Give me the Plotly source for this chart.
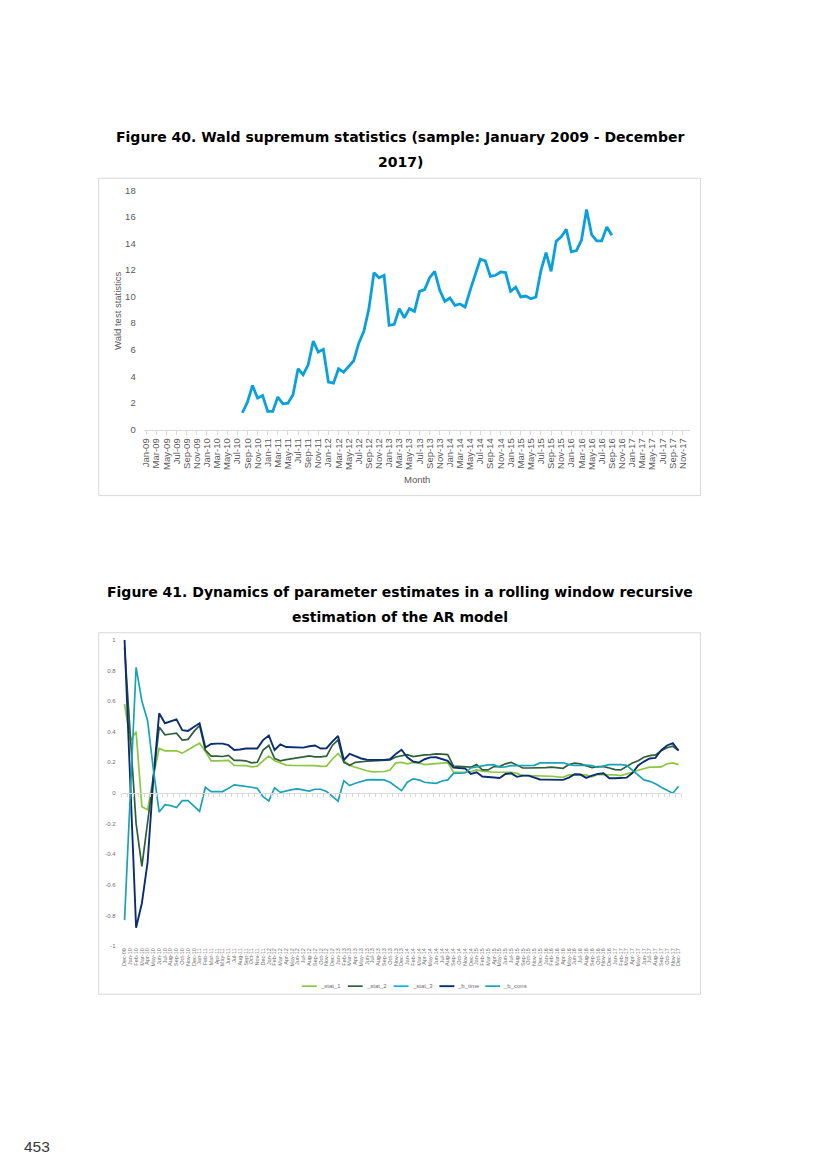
import pandas as pd
import plotly.graph_objects as go

W, H = 827, 1169
# reference-pixel -> paper coordinates (with small calibration of the capture)
def px(x): return (x - 2.0) / W
def py(y): return 1 - ((y - 6.0) / 0.9894) / H

# ---------------- data: Figure 40 ----------------
months_top = pd.date_range('2009-01-01', '2017-12-01', freq='MS').strftime('%b-%y').tolist()
wald_months = pd.date_range('2010-08-01', '2016-09-01', freq='MS').strftime('%b-%y').tolist()
wald_values = [1.26, 2.06, 3.31, 2.36, 2.56, 1.36, 1.36, 2.44, 1.93, 1.98,
               2.61, 4.57, 4.12, 4.87, 6.65, 5.83, 6.03, 3.57, 3.49, 4.57,
               4.32, 4.77, 5.17, 6.5, 7.38, 9.09, 11.8, 11.42, 11.6, 7.83,
               7.91, 9.09, 8.41, 9.09, 8.89, 10.39, 10.52, 11.42, 11.9, 10.47,
               9.64, 9.89, 9.34, 9.44, 9.21, 10.47, 11.6, 12.8, 12.68, 11.52,
               11.6, 11.85, 11.8, 10.39, 10.7, 9.97, 10.04, 9.84, 9.97, 11.98,
               13.3, 11.9, 14.16, 14.49, 15.06, 13.36, 13.46, 14.24, 16.55, 14.66,
               14.19, 14.19, 15.24, 14.61]
top_ticks = list(range(0, 19, 2))

# ---------------- data: Figure 41 ----------------
months_bot = pd.date_range('2009-12-01', '2017-12-01', freq='MS').strftime('%b-%y').tolist()
stat_1 = [0.58, 0.34, 0.40, -0.09, -0.11, 0.11, 0.29, 0.275, 0.275, 0.275,
          0.26, 0.28, 0.305, 0.325, 0.27, 0.21, 0.21, 0.21, 0.213, 0.18,
          0.178, 0.178, 0.17, 0.175, 0.21, 0.24, 0.21, 0.195, 0.182, 0.18,
          0.18, 0.18, 0.18, 0.178, 0.174, 0.175, 0.22, 0.258, 0.21, 0.18,
          0.168, 0.155, 0.145, 0.138, 0.137, 0.14, 0.15, 0.196, 0.2, 0.19,
          0.2, 0.195, 0.185, 0.188, 0.19, 0.192, 0.198, 0.135, 0.135, 0.135,
          0.14, 0.15, 0.143, 0.138, 0.135, 0.135, 0.135, 0.135, 0.128, 0.113,
          0.113, 0.113, 0.109, 0.109, 0.109, 0.105, 0.102, 0.118, 0.12, 0.12,
          0.118, 0.105, 0.12, 0.12, 0.12, 0.118, 0.113, 0.122, 0.135, 0.148,
          0.158, 0.168, 0.168, 0.17, 0.19, 0.196, 0.185]
stat_2 = [0.95, 0.35, -0.2, -0.48, -0.2, 0.1, 0.43, 0.38, 0.385, 0.39,
          0.345, 0.35, 0.40, 0.44, 0.28, 0.24, 0.24, 0.238, 0.245, 0.213,
          0.213, 0.21, 0.196, 0.2, 0.28, 0.31, 0.224, 0.21, 0.217, 0.222,
          0.228, 0.235, 0.242, 0.235, 0.235, 0.24, 0.31, 0.346, 0.2, 0.18,
          0.2, 0.205, 0.207, 0.21, 0.211, 0.213, 0.216, 0.235, 0.244, 0.25,
          0.237, 0.244, 0.248, 0.25, 0.255, 0.253, 0.25, 0.176, 0.172, 0.17,
          0.168, 0.185, 0.15, 0.15, 0.172, 0.172, 0.19, 0.2, 0.18, 0.163,
          0.163, 0.163, 0.163, 0.165, 0.168, 0.165, 0.161, 0.185, 0.194, 0.19,
          0.179, 0.165, 0.172, 0.172, 0.163, 0.152, 0.15, 0.172, 0.195, 0.21,
          0.233, 0.244, 0.248, 0.275, 0.295, 0.305, 0.277]
stat_3 = [None] * len(months_bot)
b_time = [1.0, 0.05, -0.88, -0.72, -0.45, 0.1, 0.52, 0.455, 0.47, 0.48,
          0.41, 0.405, 0.43, 0.455, 0.297, 0.32, 0.322, 0.322, 0.312, 0.28,
          0.284, 0.29, 0.29, 0.29, 0.345, 0.375, 0.28, 0.317, 0.30, 0.298,
          0.296, 0.296, 0.305, 0.31, 0.29, 0.292, 0.335, 0.372, 0.215, 0.255,
          0.24, 0.225, 0.217, 0.216, 0.216, 0.216, 0.22, 0.255, 0.282, 0.233,
          0.205, 0.198, 0.22, 0.232, 0.233, 0.22, 0.21, 0.165, 0.162, 0.16,
          0.124, 0.135, 0.107, 0.104, 0.1, 0.098, 0.124, 0.128, 0.105, 0.113,
          0.113, 0.1, 0.088, 0.087, 0.087, 0.087, 0.085, 0.1, 0.122, 0.12,
          0.098, 0.113, 0.124, 0.128, 0.096, 0.096, 0.097, 0.1, 0.13, 0.179,
          0.205, 0.225, 0.229, 0.28, 0.31, 0.325, 0.277]
b_cons = [-0.83, 0.0, 0.82, 0.6, 0.47, 0.15, -0.125, -0.077, -0.083, -0.095,
          -0.05, -0.05, -0.083, -0.12, 0.037, 0.009, 0.009, 0.009, 0.03, 0.053,
          0.048, 0.044, 0.037, 0.03, -0.024, -0.052, 0.033, 0.004, 0.015, 0.022,
          0.026, 0.02, 0.012, 0.024, 0.024, 0.01, -0.02, -0.054, 0.08, 0.048,
          0.063, 0.076, 0.085, 0.087, 0.087, 0.085, 0.07, 0.04, 0.015, 0.07,
          0.092, 0.085, 0.07, 0.066, 0.063, 0.078, 0.085, 0.128, 0.128, 0.13,
          0.163, 0.17, 0.18, 0.183, 0.185, 0.168, 0.17, 0.178, 0.178, 0.178,
          0.178, 0.18, 0.196, 0.196, 0.196, 0.197, 0.197, 0.185, 0.179, 0.179,
          0.182, 0.178, 0.168, 0.175, 0.185, 0.185, 0.185, 0.18, 0.15, 0.115,
          0.085, 0.076, 0.06, 0.037, 0.015, -0.002, 0.044]
left_ticks = [-1, -0.8, -0.6, -0.4, -0.2, 0, 0.2, 0.4, 0.6, 0.8, 1]
left_ticktext = ['-1', '-0.8', '-0.6', '-0.4', '-0.2', '0', '0.2', '0.4', '0.6', '0.8', '1']
right_ticks = [-10, -5, 0, 5, 10, 15, 20, 25, 30, 35, 40]
right_ticktext = ['-10', '-5', '0', '5', '10', '15', '20', '25', '30', '35', '40']

series_names = ['_stat_1', '_stat_2', '_stat_3', '_b_time', '_b_cons']
series_values = [stat_1, stat_2, stat_3, b_time, b_cons]
series_colors = ['#8DC641', '#2F5F3A', '#00B0F0', '#0B2E70', '#1AA3B6']
series_widths = [1.7, 1.7, 1.7, 1.9, 1.7]

GRAY = '#595959'
GRAY2 = '#6E6E6E'
LINE = '#D9D9D9'
AX = 'Liberation Sans, Arial, sans-serif'
TITLE = 'DejaVu Sans, Verdana, sans-serif'

fig = go.Figure()
fig.add_trace(go.Scatter(x=wald_months, y=wald_values, mode='lines',
                         line=dict(color='#0AA0DC', width=2.8),
                         xaxis='x', yaxis='y', showlegend=False))
for name, vals, col, w in zip(series_names, series_values, series_colors, series_widths):
    fig.add_trace(go.Scatter(x=months_bot, y=vals, mode='lines', name=name,
                             line=dict(color=col, width=w),
                             xaxis='x3' if name == '_stat_3' else 'x2', yaxis='y2',
                             showlegend=False, connectgaps=False))

x0t, x1t = 143.2, 691.8
x0b, x1b = 121.1, 682.9

shapes = [
    dict(type='rect', xref='paper', yref='paper', x0=px(98), x1=px(702),
         y0=py(495), y1=py(178), line=dict(color=LINE, width=1)),
    dict(type='rect', xref='paper', yref='paper', x0=px(98), x1=px(702),
         y0=py(993), y1=py(632), line=dict(color=LINE, width=1)),
]
annotations = [
    dict(text='<b>Figure 40. Wald supremum statistics (sample: January 2009 - December</b>',
         x=px(400.5), y=py(137), xref='paper', yref='paper', showarrow=False,
         xanchor='center', yanchor='middle', font=dict(family=TITLE, size=14, color='black')),
    dict(text='<b>2017)</b>', x=px(400.5), y=py(162), xref='paper', yref='paper',
         showarrow=False, xanchor='center', yanchor='middle',
         font=dict(family=TITLE, size=14, color='black')),
    dict(text='Wald test statistics', x=px(117), y=py(310), xref='paper', yref='paper',
         showarrow=False, textangle=-90, xanchor='center', yanchor='middle',
         font=dict(family=AX, size=9.5, color=GRAY)),
    dict(text='Month', x=px(418), y=py(479), xref='paper', yref='paper',
         showarrow=False, xanchor='center', yanchor='middle',
         font=dict(family=AX, size=9.5, color=GRAY)),
    dict(text='<b>Figure 41. Dynamics of parameter estimates in a rolling window recursive</b>',
         x=px(400.5), y=py(591), xref='paper', yref='paper', showarrow=False,
         xanchor='center', yanchor='middle', font=dict(family=TITLE, size=14, color='black')),
    dict(text='<b>estimation of the AR model</b>', x=px(400.5), y=py(616), xref='paper', yref='paper',
         showarrow=False, xanchor='center', yanchor='middle',
         font=dict(family=TITLE, size=14, color='black')),
    dict(text='453', x=px(21), y=py(1145), xref='paper', yref='paper', showarrow=False,
         xanchor='left', yanchor='middle', font=dict(family=AX, size=15.5, color='#3A3A3A')),
]

# legend row (key lines + names) laid out under the lower chart
leg_x0, leg_step, leg_len, leg_y = 302, 46, 15, 985
for k, (name, col, w) in enumerate(zip(series_names, series_colors, series_widths)):
    lx = leg_x0 + k * leg_step
    shapes.append(dict(type='line', xref='paper', yref='paper', x0=px(lx), x1=px(lx + leg_len),
                       y0=py(leg_y), y1=py(leg_y), line=dict(color=col, width=w)))
    annotations.append(dict(text=name, x=px(lx + leg_len + 1), y=py(leg_y), xref='paper', yref='paper',
                            showarrow=False, xanchor='left', yanchor='middle',
                            font=dict(family=AX, size=6, color=GRAY2)))

fig.update_layout(
    width=W, height=H, margin=dict(l=0, r=0, t=0, b=0),
    paper_bgcolor='white', plot_bgcolor='white',
    font=dict(family=AX, color=GRAY), showlegend=False,
    xaxis=dict(domain=[px(x0t), px(x1t)], anchor='y', type='category',
               categoryorder='array', categoryarray=months_top,
               range=[-0.5, len(months_top) - 0.5],
               tickmode='array', tickvals=months_top[::2], ticktext=months_top[::2],
               tickangle=-90, tickfont=dict(size=9.5, color=GRAY, family=AX),
               showline=True, linecolor=LINE, linewidth=1,
               ticks='outside', ticklen=4, tickcolor=LINE, showgrid=False, zeroline=False),
    yaxis=dict(domain=[py(429), py(190)], anchor='x', range=[0, 18],
               tickmode='array', tickvals=top_ticks,
               tickfont=dict(size=9.5, color=GRAY, family=AX),
               showgrid=False, zeroline=False, showline=False, ticks='',
               ticklabelstandoff=7),
    xaxis2=dict(domain=[px(x0b), px(x1b)], anchor='y2', type='category',
                categoryorder='array', categoryarray=months_bot,
                range=[-0.5, len(months_bot) - 0.5],
                tickmode='array', tickvals=months_bot, ticktext=months_bot,
                tickangle=-90, tickfont=dict(size=5.5, color=GRAY2, family=AX),
                showline=False, ticks='', showgrid=False, zeroline=False),
    xaxis3=dict(type='category', categoryorder='array', categoryarray=months_bot,
                range=[-0.5, len(months_bot) - 0.5], overlaying='x2',
                anchor='free', position=py(792.3),
                tickmode='array', tickvals=months_bot, tickson='boundaries',
                showticklabels=False, showline=True, linecolor=LINE, linewidth=1,
                ticks='outside', ticklen=3, tickcolor=LINE, showgrid=False, zeroline=False),
    yaxis2=dict(domain=[py(945), py(639)], anchor='x2', range=[-1, 1],
                tickmode='array', tickvals=left_ticks, ticktext=left_ticktext,
                tickfont=dict(size=6, color=GRAY2, family=AX),
                showgrid=False, zeroline=False, showline=False, ticks='',
                ticklabelstandoff=5),
    yaxis3=dict(overlaying='y2', side='right', anchor='x2', range=[-10, 40],
                tickmode='array', tickvals=right_ticks, ticktext=right_ticktext,
                tickfont=dict(size=6, color=GRAY2, family=AX),
                showgrid=False, zeroline=False, showline=False, ticks='',
                ticklabelstandoff=5),
    shapes=shapes,
    annotations=annotations,
)

fig.write_html('out.html', config={'displayModeBar': False},
               post_script="document.body.style.margin='0';document.body.style.padding='0';"
                           "document.documentElement.style.overflow='hidden';")
